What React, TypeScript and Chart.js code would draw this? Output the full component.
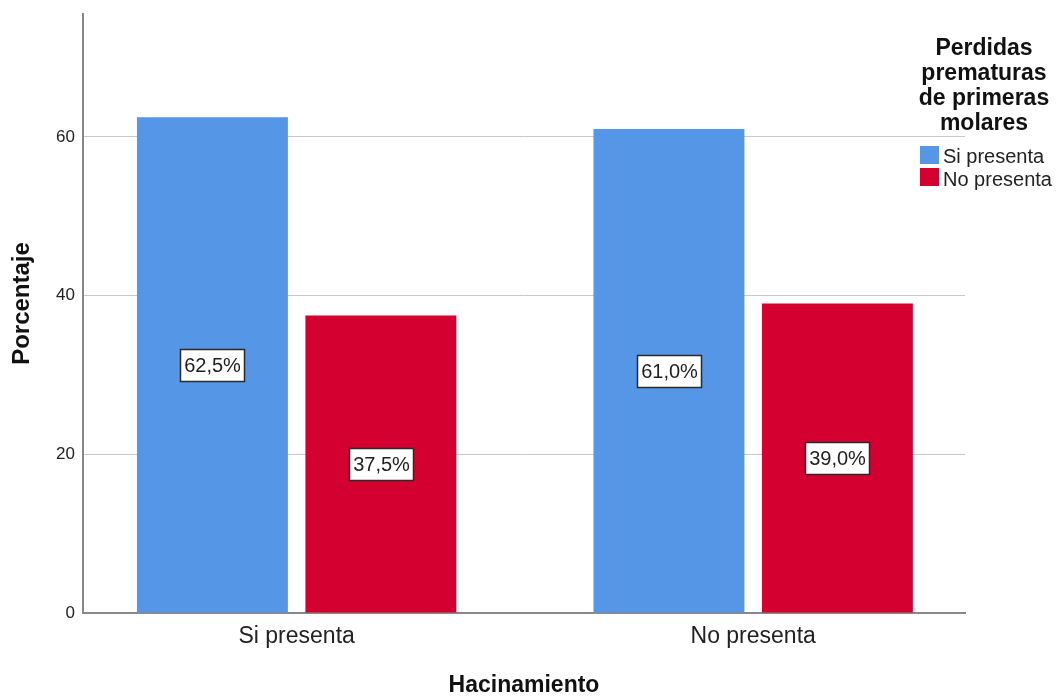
import { useEffect, useRef } from 'react';
import { Chart, registerables } from 'chart.js';

Chart.register(...registerables);

// Hacinamiento groups on the x axis
const categories = ['Si presenta', 'No presenta'];
// Legend series: Perdidas prematuras de primeras molares
const seriesNames = ['Si presenta', 'No presenta'];
const siPresentaPct = [62.5, 61.0];
const noPresentaPct = [37.5, 39.0];
const seriesColors = ['#5596e6', '#d40030'];
const yTickValues = [0, 20, 40, 60];
const legendTitleLines = ['Perdidas', 'prematuras', 'de primeras', 'molares'];
const xAxisTitle = 'Hacinamiento';
const yAxisTitle = 'Porcentaje';

const FONT = '"Liberation Sans", Arial, sans-serif';

const fmtPct = (v: number) => v.toFixed(1).replace('.', ',') + '%';

// White boxed percentage in the middle of each bar
const barLabelPlugin = {
  id: 'barLabels',
  afterDatasetsDraw(chart: any) {
    const ctx = chart.ctx;
    ctx.save();
    ctx.font = `20px ${FONT}`;
    ctx.textAlign = 'center';
    ctx.textBaseline = 'middle';
    chart.data.datasets.forEach((ds: any, di: number) => {
      const meta = chart.getDatasetMeta(di);
      meta.data.forEach((bar: any, i: number) => {
        const { x, y, base } = bar.getProps(['x', 'y', 'base'], true);
        const text = fmtPct(ds.data[i].y);
        const w = Math.round(ctx.measureText(text).width + 7);
        const h = 32;
        const cx = Math.round(x);
        const cy = Math.round((y + base) / 2);
        const left = cx - Math.round(w / 2);
        const top = cy - h / 2;
        ctx.fillStyle = '#ffffff';
        ctx.fillRect(left, top, w, h);
        ctx.strokeStyle = '#2a2a2a';
        ctx.lineWidth = 1.5;
        ctx.strokeRect(left + 0.5, top + 0.5, w, h);
        ctx.fillStyle = '#1e1e1e';
        ctx.fillText(text, cx + 0.5, cy + 1);
      });
    });
    ctx.restore();
  },
};

// Rotated y-axis title, and the legend with its multi-line bold title
const sideTextPlugin = {
  id: 'sideText',
  afterDraw(chart: any) {
    const ctx = chart.ctx;
    ctx.save();
    ctx.translate(22, 303.5);
    ctx.rotate(-Math.PI / 2);
    ctx.font = `bold 24px ${FONT}`;
    ctx.fillStyle = '#111111';
    ctx.textAlign = 'center';
    ctx.textBaseline = 'middle';
    ctx.fillText(yAxisTitle, 0, 0);
    ctx.restore();

    ctx.save();
    ctx.font = `bold 23px ${FONT}`;
    ctx.fillStyle = '#111111';
    ctx.textAlign = 'center';
    ctx.textBaseline = 'alphabetic';
    legendTitleLines.forEach((line, i) => {
      ctx.fillText(line, 984, 55 + i * 25);
    });
    ctx.font = `20px ${FONT}`;
    ctx.textAlign = 'left';
    seriesNames.forEach((name, i) => {
      ctx.fillStyle = seriesColors[i];
      ctx.fillRect(920, 146 + i * 22, 19, 18);
      ctx.fillStyle = '#222222';
      ctx.fillText(name, 943, 163 + i * 22.5);
    });
    ctx.restore();
  },
};

export default function App() {
  const canvasRef = useRef<HTMLCanvasElement | null>(null);

  useEffect(() => {
    if (!canvasRef.current) return;
    const chart = new Chart(canvasRef.current, {
      type: 'bar',
      data: {
        datasets: [
          {
            label: seriesNames[0],
            data: siPresentaPct.map((v, i) => ({ x: i, y: v })),
            backgroundColor: seriesColors[0],
            categoryPercentage: 0.738,
            barPercentage: 0.896,
          },
          {
            label: seriesNames[1],
            data: noPresentaPct.map((v, i) => ({ x: i, y: v })),
            backgroundColor: seriesColors[1],
            categoryPercentage: 0.738,
            barPercentage: 0.896,
          },
        ],
      },
      options: {
        responsive: false,
        animation: false,
        layout: { padding: { top: 14, right: 91, left: 0, bottom: 0 } },
        plugins: {
          legend: { display: false },
          tooltip: { enabled: false },
        },
        scales: {
          x: {
            type: 'linear',
            offset: false,
            min: -0.468,
            max: 1.464,
            afterBuildTicks: (scale: any) => {
              scale.ticks = categories.map((_, i) => ({ value: i }));
            },
            afterFit: (scale: any) => {
              scale.height = 84;
              scale.paddingLeft = 0;
              scale.paddingRight = 0;
            },
            grid: { display: false, drawTicks: false },
            border: { display: true, color: '#888888', width: 2 },
            ticks: {
              autoSkip: false,
              maxRotation: 0,
              padding: 10,
              color: '#222222',
              font: { family: FONT, size: 23 },
              callback: (v: any) => categories[v] ?? '',
            },
            title: {
              display: true,
              text: xAxisTitle,
              color: '#111111',
              padding: 0,
              font: { family: FONT, size: 23, weight: 'bold', lineHeight: 1 },
            },
          },
          y: {
            min: 0,
            max: 75.5,
            afterBuildTicks: (scale: any) => {
              scale.ticks = yTickValues.map((v) => ({ value: v }));
            },
            afterFit: (scale: any) => {
              scale.width = 83;
              scale.paddingTop = 0;
              scale.paddingBottom = 0;
            },
            grid: { color: '#c8c8c8', lineWidth: 1, drawTicks: false },
            border: { display: true, color: '#888888', width: 2 },
            ticks: {
              padding: 8,
              color: '#222222',
              font: { family: FONT, size: 17 },
            },
            title: { display: false },
          },
        },
      },
      plugins: [barLabelPlugin, sideTextPlugin],
    } as any);
    return () => chart.destroy();
  }, []);

  return (
    <div style={{ position: 'absolute', left: 0, top: 0, width: 1056, height: 697, background: '#ffffff' }}>
      <canvas ref={canvasRef} width={1056} height={697} />
    </div>
  );
}
